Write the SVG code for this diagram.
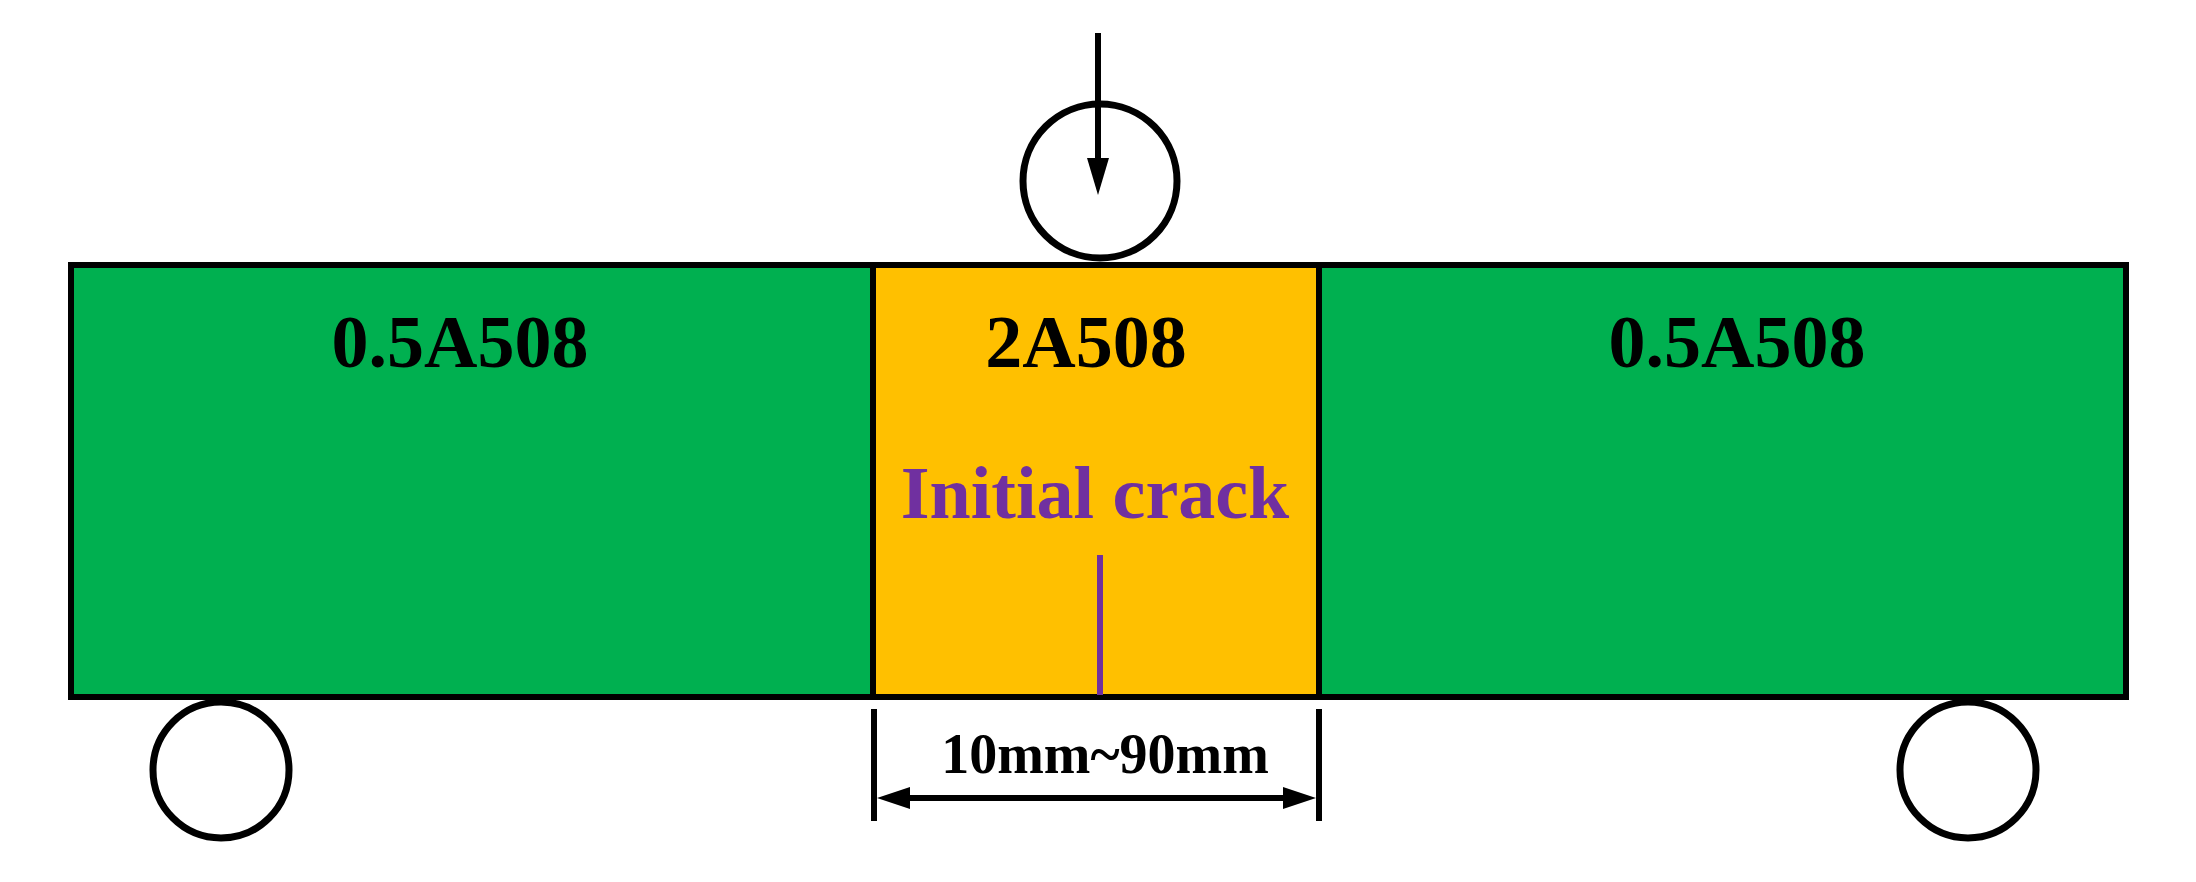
<svg xmlns="http://www.w3.org/2000/svg" width="2196" height="882" viewBox="0 0 2196 882">
<style>
.lbl{font-family:"Liberation Serif","Times New Roman",serif;font-weight:bold;text-anchor:middle}
.blk{fill:#000}
.ln{stroke:#000;stroke-width:6;fill:none}
.sup{stroke:#000;stroke-width:7;fill:#fff}
</style>
<rect width="2196" height="882" fill="#fff"/>
<g id="left-segment">
<rect x="71" y="265" width="802" height="432" fill="#00B050" stroke="#000" stroke-width="6"/>
<text class="lbl blk" x="460" y="367" font-size="74">0.5A508</text>
</g>
<g id="right-segment">
<rect x="1319" y="265" width="807" height="432" fill="#00B050" stroke="#000" stroke-width="6"/>
<text class="lbl blk" x="1737" y="367" font-size="74">0.5A508</text>
</g>
<g id="middle-segment">
<rect x="873" y="265" width="446" height="432" fill="#FFC000" stroke="#000" stroke-width="6"/>
<text class="lbl blk" x="1086" y="367" font-size="74">2A508</text>
<text class="lbl" x="1095" y="518" font-size="74" fill="#7030A0">Initial crack</text>
<line x1="1100" y1="555" x2="1100" y2="695" stroke="#7030A0" stroke-width="6"/>
</g>
<g id="load-roller">
<circle class="sup" cx="1100" cy="181" r="77"/>
</g>
<g id="left-support">
<circle class="sup" cx="221" cy="770" r="68"/>
</g>
<g id="right-support">
<circle class="sup" cx="1968" cy="770" r="68"/>
</g>
<g id="connectors">
<line class="ln" x1="1098" y1="33" x2="1098" y2="165"/>
<polygon class="blk" points="1087,158 1109,158 1098,195"/>
<line class="ln" x1="874" y1="709" x2="874" y2="821"/>
<line class="ln" x1="1319" y1="709" x2="1319" y2="821"/>
<line class="ln" x1="895" y1="798" x2="1300" y2="798"/>
<polygon class="blk" points="877,798 910,787 910,809"/>
<polygon class="blk" points="1316,798 1283,787 1283,809"/>
</g>
<g id="dimension-label">
<text class="lbl blk" x="1105" y="773" font-size="56">10mm~90mm</text>
</g>
</svg>
